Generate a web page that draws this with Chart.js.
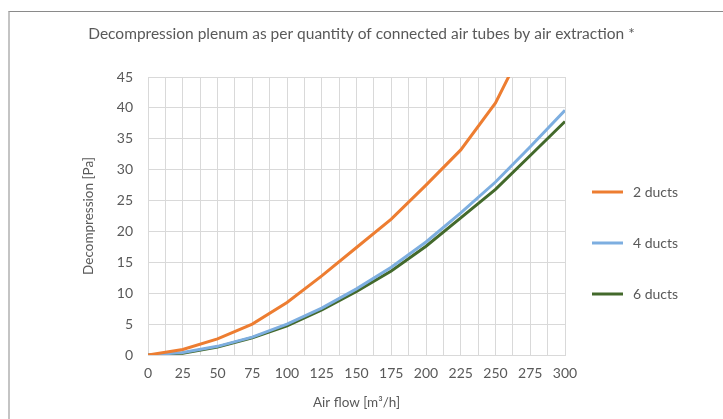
<!DOCTYPE html>
<html>
<head>
<meta charset="utf-8">
<script src="https://cdn.jsdelivr.net/npm/chart.js@4/dist/chart.umd.min.js"></script>
<style>
  html, body { margin: 0; padding: 0; background: #fff; }
  #wrap { position: relative; width: 723px; height: 419px; overflow: hidden; }
  #frame { position: absolute; left: 8px; top: 11px; right: -5px; bottom: -5px;
           border-top: 1px solid #8a8a8a; border-left: 2px solid #c4c4c4; }
  canvas { position: absolute; left: 0; top: 0; }
</style>
</head>
<body>
<div id="wrap">
  <div id="frame"></div>
  <canvas id="c" width="723" height="419"></canvas>
</div>
<script>
// ---- data ----
const airFlow = [0, 25, 50, 75, 100, 125, 150, 175, 200, 225, 250, 275, 300];
const ducts2 = [0, 0.9, 2.6, 5.0, 8.5, 12.8, 17.4, 22.0, 27.5, 33.2, 40.8, 52.0, 63.0];
const ducts4 = [0, 0.4, 1.4, 2.9, 5.0, 7.6, 10.7, 14.2, 18.3, 23.0, 28.0, 33.7, 39.6];
const ducts6 = [0, 0.3, 1.3, 2.8, 4.7, 7.3, 10.3, 13.6, 17.6, 22.2, 26.8, 32.3, 37.8];
const seriesLabels = ['2 ducts', '4 ducts', '6 ducts'];
const titleText = 'Decompression plenum as per quantity of connected air tubes by air extraction *';
const xTitle = 'Air flow [m\u00B3/h]';
const yTitle = 'Decompression [Pa]';

const FONT = 'Lato, "Noto Sans", sans-serif';
const TXT = '#595959';
const GRID = '#d9d9d9';
const colors = ['#ED7D31', '#7DAEE0', '#43692B'];

function pts(ys) { return airFlow.map((x, i) => ({ x: x, y: ys[i] })); }

const titleAndLegend = {
  id: 'titleAndLegend',
  afterDraw(chart) {
    const ctx = chart.ctx;
    ctx.save();
    // chart title, centred on the full canvas width
    ctx.fillStyle = TXT;
    ctx.font = '15.5px ' + FONT;
    ctx.textAlign = 'center';
    ctx.textBaseline = 'middle';
    ctx.fillText(titleText, chart.width / 2, 34);
    // side legend
    const rows = [192, 243, 294];
    chart.data.datasets.forEach((ds, i) => {
      const y = rows[i];
      ctx.strokeStyle = ds.borderColor;
      ctx.lineWidth = 3;
      ctx.beginPath();
      ctx.moveTo(592, y);
      ctx.lineTo(623, y);
      ctx.stroke();
      ctx.fillStyle = TXT;
      ctx.font = '14px ' + FONT;
      ctx.textBaseline = 'middle';
      ctx.textAlign = 'left';
      ctx.fillText(ds.label, 633, y);
    });
    ctx.restore();
  }
};

new Chart(document.getElementById('c'), {
  type: 'line',
  data: {
    datasets: [ducts2, ducts4, ducts6].map((d, i) => ({
      label: seriesLabels[i],
      data: pts(d),
      borderColor: colors[i],
      backgroundColor: colors[i],
      borderWidth: 3,
      pointRadius: 0,
      tension: 0,
      fill: false
    }))
  },
  options: {
    responsive: false,
    animation: false,
    layout: { padding: { left: 0, right: 158, top: 77, bottom: 0 } },
    plugins: {
      legend: { display: false },
      tooltip: { enabled: false },
      title: { display: false }
    },
    scales: {
      x: {
        type: 'linear',
        min: 0, max: 300,
        afterFit(s) { s.height = 64; },
        grid: { color: GRID, drawTicks: false },
        border: { color: GRID },
        ticks: {
          stepSize: 12.5,
          autoSkip: false,
          maxRotation: 0,
          padding: 10,
          color: TXT,
          font: { family: FONT, size: 14 },
          callback: (v) => (v % 25 === 0 ? String(v) : '')
        },
        title: {
          display: true, text: xTitle, color: TXT,
          font: { family: FONT, size: 13.5 },
          padding: { top: 0, bottom: 8 }
        }
      },
      y: {
        min: 0, max: 45,
        afterFit(s) { s.width = 148; },
        grid: { color: GRID, drawTicks: false },
        border: { color: GRID },
        ticks: {
          stepSize: 5,
          padding: 15,
          color: TXT,
          font: { family: FONT, size: 14 }
        },
        title: {
          display: true, text: yTitle, color: TXT,
          font: { family: FONT, size: 13.5 },
          padding: { top: 81, bottom: 0 }
        }
      }
    }
  },
  plugins: [titleAndLegend]
});
</script>
</body>
</html>
